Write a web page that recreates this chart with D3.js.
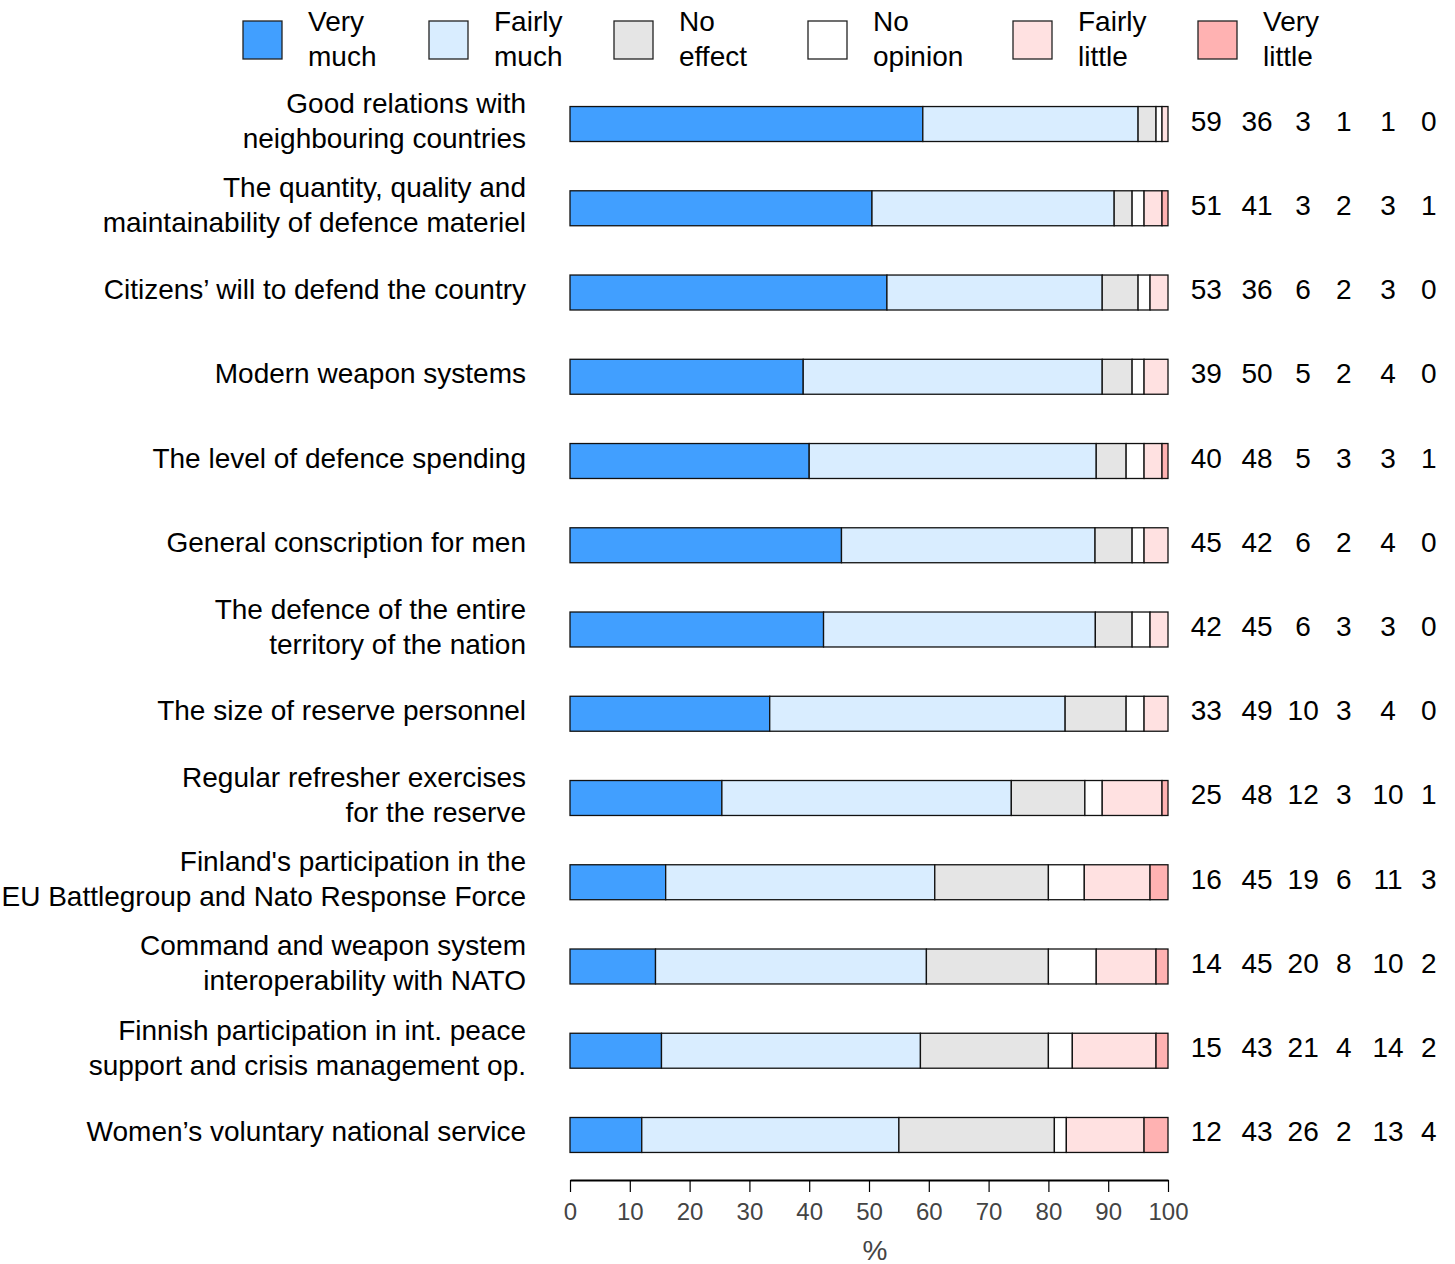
<!DOCTYPE html>
<html>
<head>
<meta charset="utf-8">
<script src="https://cdn.jsdelivr.net/npm/d3@7"></script>
<style>
  html, body { margin: 0; padding: 0; background: #fff; }
  svg { display: block; font-family: "Liberation Sans", Arial, Helvetica, sans-serif; }
</style>
</head>
<body>
<svg id="chart" width="1455" height="1264"></svg>
<script>
// ---------- data ----------
const categories = [
  "Good relations with\nneighbouring countries",
  "The quantity, quality and\nmaintainability of defence materiel",
  "Citizens\u2019 will to defend the country",
  "Modern weapon systems",
  "The level of defence spending",
  "General conscription for men",
  "The defence of the entire\nterritory of the nation",
  "The size of reserve personnel",
  "Regular refresher exercises\nfor the reserve",
  "Finland's participation in the\nEU Battlegroup and Nato Response Force",
  "Command and weapon system\ninteroperability with NATO",
  "Finnish participation in int. peace\nsupport and crisis management op.",
  "Women\u2019s voluntary national service"
];
const seriesNames = ["Very\nmuch", "Fairly\nmuch", "No\neffect", "No\nopinion", "Fairly\nlittle", "Very\nlittle"];

// bar lengths (%)
const veryMuch     = [59, 50.5, 53, 39, 40, 45.4, 42.4, 33.4, 25.4, 16, 14.3, 15.3, 12];
const fairlyMuch   = [36, 40.5, 36, 50, 48, 42.4, 45.45, 49.4, 48.4, 45, 45.3, 43.3, 43];
const noEffect     = [3, 3, 6, 5, 5, 6.2, 6.15, 10.2, 12.3, 19, 20.4, 21.4, 26];
const noOpinion    = [1, 2, 2, 2, 3, 2, 3, 3, 2.9, 6, 8, 4, 2];
const fairlyLittle = [1, 3, 3, 4, 3, 4, 3, 4, 10, 11, 10, 14, 13];
const veryLittle   = [0, 1, 0, 0, 1, 0, 0, 0, 1, 3, 2, 2, 4];

// printed numbers at the right
const lblVeryMuch     = [59, 51, 53, 39, 40, 45, 42, 33, 25, 16, 14, 15, 12];
const lblFairlyMuch   = [36, 41, 36, 50, 48, 42, 45, 49, 48, 45, 45, 43, 43];
const lblNoEffect     = [3, 3, 6, 5, 5, 6, 6, 10, 12, 19, 20, 21, 26];
const lblNoOpinion    = [1, 2, 2, 2, 3, 2, 3, 3, 3, 6, 8, 4, 2];
const lblFairlyLittle = [1, 3, 3, 4, 3, 4, 3, 4, 10, 11, 10, 14, 13];
const lblVeryLittle   = [0, 1, 0, 0, 1, 0, 0, 0, 1, 3, 2, 2, 4];

const xTicks = [0, 10, 20, 30, 40, 50, 60, 70, 80, 90, 100];

// ---------- styles / layout ----------
const colors = ["#419fff", "#d9edff", "#e5e5e5", "#ffffff", "#ffe1e1", "#ffb2b2"];
const keys = ["vm", "fm", "ne", "no", "fl", "vl"];
const seriesValues = [veryMuch, fairlyMuch, noEffect, noOpinion, fairlyLittle, veryLittle];
const seriesLabels = [lblVeryMuch, lblFairlyMuch, lblNoEffect, lblNoOpinion, lblFairlyLittle, lblVeryLittle];

const table = categories.map((c, i) => {
  const row = { category: c };
  keys.forEach((k, j) => { row[k] = seriesValues[j][i]; });
  return row;
});

const svg = d3.select("#chart");
const FONT = 28;

const x = d3.scaleLinear().domain([0, 100]).range([570, 1168]);
const y = d3.scaleBand().domain(categories).range([81.9, 1177.1]).paddingInner(0.585).paddingOuter(0.2925);

const stack = d3.stack().keys(keys);
const stacked = stack(table);

// bars
const g = svg.append("g");
stacked.forEach((layer, j) => {
  g.selectAll(null)
    .data(layer)
    .join("rect")
    .attr("x", d => x(d[0]))
    .attr("y", d => y(d.data.category))
    .attr("width", d => x(d[1]) - x(d[0]))
    .attr("height", y.bandwidth())
    .attr("fill", colors[j])
    .attr("stroke", "#111")
    .attr("stroke-width", 1.3);
});

// category labels
const lineH = 35;
categories.forEach(c => {
  const lines = c.split("\n");
  const cy = y(c) + y.bandwidth() / 2 - 3;
  const t = svg.append("text")
    .attr("text-anchor", "end")
    .attr("font-size", FONT)
    .attr("fill", "#000");
  lines.forEach((ln, k) => {
    t.append("tspan")
      .attr("x", 526)
      .attr("y", cy + (k - (lines.length - 1) / 2) * lineH)
      .attr("dominant-baseline", "central")
      .text(ln);
  });
});

// value columns (in axis units beyond 100)
const valueCols = [106.4, 114.9, 122.6, 129.4, 136.8, 143.6];
categories.forEach((c, i) => {
  const cy = y(c) + y.bandwidth() / 2 - 3;
  seriesLabels.forEach((arr, j) => {
    svg.append("text")
      .attr("x", x(valueCols[j]))
      .attr("y", cy)
      .attr("text-anchor", "middle")
      .attr("dominant-baseline", "central")
      .attr("font-size", FONT)
      .attr("fill", "#000")
      .text(arr[i]);
  });
});

// x axis
const axis = svg.append("g")
  .attr("transform", "translate(0,1180)")
  .call(d3.axisBottom(x).tickValues(xTicks).tickSize(12).tickSizeOuter(0).tickPadding(11));
axis.select(".domain").attr("stroke", "#000").attr("stroke-width", 2.2);
axis.selectAll(".tick line").attr("stroke", "#000").attr("stroke-width", 1.2);
axis.selectAll(".tick text")
  .attr("font-size", 24)
  .attr("fill", "#444")
  .attr("font-family", "\"Liberation Sans\", Arial, sans-serif");

svg.append("text")
  .attr("x", x(51))
  .attr("y", 1250)
  .attr("text-anchor", "middle")
  .attr("dominant-baseline", "central")
  .attr("font-size", FONT)
  .attr("fill", "#444")
  .text("%");

// legend
const legendX = [243, 429, 614, 808, 1013, 1198];
seriesNames.forEach((name, j) => {
  const lg = svg.append("g").attr("transform", `translate(${legendX[j]},0)`);
  lg.append("rect")
    .attr("x", 0).attr("y", 21)
    .attr("width", 39).attr("height", 38)
    .attr("fill", colors[j])
    .attr("stroke", "#222").attr("stroke-width", 1.3);
  const t = lg.append("text").attr("font-size", FONT).attr("fill", "#000");
  name.split("\n").forEach((ln, k) => {
    t.append("tspan")
      .attr("x", 65)
      .attr("y", 21 + k * 35)
      .attr("dominant-baseline", "central")
      .text(ln);
  });
});
</script>
</body>
</html>
